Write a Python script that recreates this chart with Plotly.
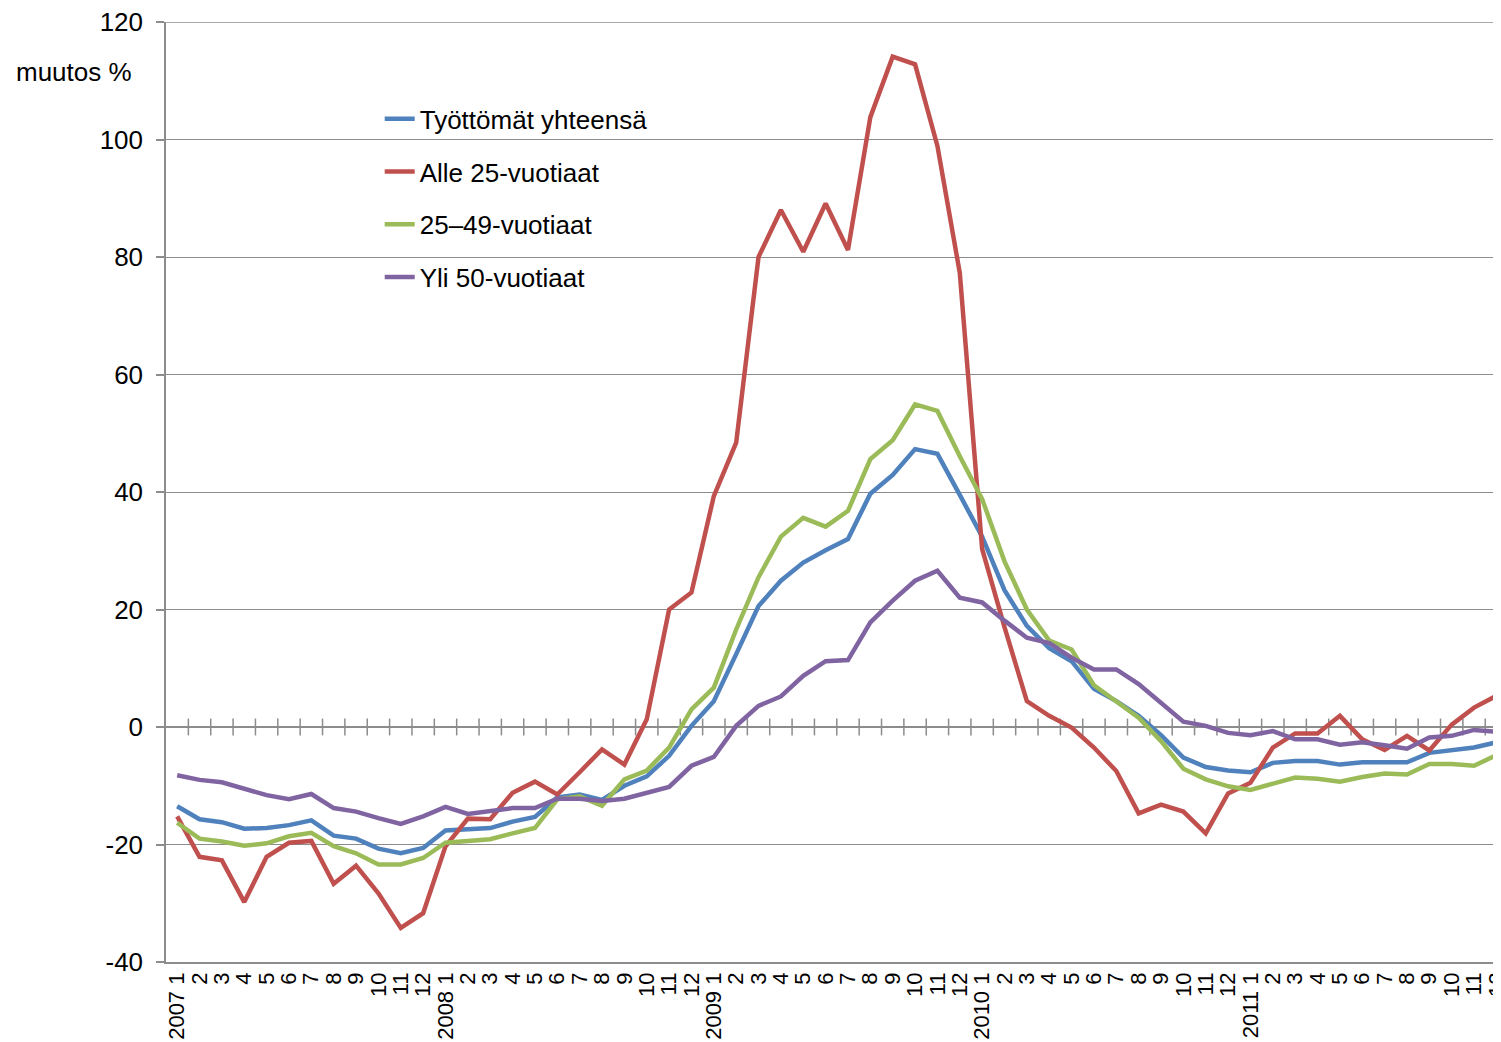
import numpy as np
import plotly.graph_objects as go

years = [2007, 2008, 2009, 2010, 2011]
months = list(range(1, 13))
tick_labels = [f"{y} {m}" if m == 1 else str(m) for y in years for m in months]

series_names = ["Työttömät yhteensä", "Alle 25-vuotiaat", "25–49-vuotiaat", "Yli 50-vuotiaat"]
series_colors = ["#4F81BD", "#C0504D", "#9BBB59", "#8064A2"]

tyottomat = [
    -13.5, -15.7, -16.2, -17.3, -17.2, -16.7, -15.9, -18.5, -19.0, -20.7, -21.5, -20.6,
    -17.6, -17.4, -17.2, -16.1, -15.3, -12.0, -11.5, -12.4, -10.0, -8.4, -4.9, 0.2,
    4.4, 12.4, 20.6, 24.9, 28.0, 30.1, 32.0, 39.7, 42.9, 47.3, 46.5, 39.5,
    32.4, 23.3, 17.2, 13.4, 11.2, 6.5, 4.4, 1.9, -1.4, -5.2, -6.8, -7.4,
    -7.7, -6.1, -5.8, -5.8, -6.4, -6.0, -6.0, -6.0, -4.4, -3.9, -3.5, -2.6,
]
alle25 = [
    -15.2, -22.1, -22.7, -29.8, -22.1, -19.7, -19.4, -26.7, -23.6, -28.3, -34.2, -31.7,
    -20.3, -15.6, -15.7, -11.2, -9.3, -11.5, -7.7, -3.8, -6.4, 1.3, 20.0, 22.9,
    39.3, 48.4, 80.0, 88.0, 80.9, 89.1, 81.2, 103.8, 114.1, 112.8, 98.9, 77.3,
    30.3, 17.0, 4.4, 1.9, -0.1, -3.5, -7.5, -14.7, -13.2, -14.4, -18.1, -11.3,
    -9.5, -3.5, -1.1, -1.1, 1.9, -2.1, -3.9, -1.5, -4.0, 0.4, 3.3, 5.3,
]
v25_49 = [
    -16.3, -19.0, -19.5, -20.2, -19.8, -18.6, -18.0, -20.3, -21.5, -23.4, -23.4, -22.3,
    -19.7, -19.4, -19.1, -18.1, -17.2, -12.3, -11.8, -13.4, -8.9, -7.4, -3.5, 3.0,
    6.7, 16.6, 25.5, 32.4, 35.6, 34.1, 36.8, 45.6, 48.8, 54.9, 53.8, 46.1,
    38.8, 28.2, 20.0, 14.7, 13.2, 7.1, 4.4, 1.6, -2.4, -7.1, -8.9, -10.1,
    -10.7, -9.6, -8.6, -8.8, -9.3, -8.5, -7.9, -8.1, -6.3, -6.3, -6.6, -4.8,
]
yli50 = [
    -8.2, -9.0, -9.4, -10.5, -11.6, -12.3, -11.4, -13.8, -14.4, -15.5, -16.5, -15.2,
    -13.6, -14.8, -14.3, -13.8, -13.8, -12.2, -12.2, -12.6, -12.2, -11.2, -10.2, -6.6,
    -5.1, 0.2, 3.6, 5.2, 8.7, 11.2, 11.4, 17.8, 21.5, 24.9, 26.6, 22.0,
    21.2, 18.1, 15.2, 14.3, 11.8, 9.8, 9.8, 7.3, 4.1, 0.9, 0.2, -1.0,
    -1.4, -0.7, -2.1, -2.1, -3.0, -2.6, -3.1, -3.7, -1.8, -1.5, -0.5, -0.8,
]
all_series = [tyottomat, alle25, v25_49, yli50]

y_ticks = [-40, -20, 0, 20, 40, 60, 80, 100, 120]
y_tick_text = [str(v) for v in y_ticks]

FONT = "Liberation Sans, Arial, sans-serif"
GRID = "#8C8C8C"

x = np.arange(len(tick_labels))

fig = go.Figure()

# tick marks crossing the zero line, at the category boundaries
fig.add_trace(go.Scatter(
    x=x[:-1] + 0.5, y=np.zeros(len(x) - 1), mode="markers",
    marker=dict(symbol="line-ns", size=12, line=dict(width=1.5, color=GRID)),
    hoverinfo="skip", showlegend=False,
))

for i, (name, vals, col) in enumerate(zip(series_names, all_series, series_colors)):
    fig.add_trace(go.Scatter(
        x=x, y=vals, mode="lines", name=name,
        line=dict(color=col, width=4.5),
        legendgroup=f"g{i}",
    ))

# page body has an 8px margin, so the figure is 8px smaller than the window
W, H = 1493, 1034
ML, MR, MT, MB = 158, 1, 14, 80
PW, PH = W - ML - MR, H - MT - MB

fig.update_layout(
    width=W, height=H,
    margin=dict(l=ML, r=MR, t=MT, b=MB, autoexpand=False),
    paper_bgcolor="white", plot_bgcolor="white",
    font=dict(family=FONT, color="black"),
    showlegend=True,
    legend=dict(
        x=0.1602, y=0.922, xanchor="left", yanchor="top",
        font=dict(size=26, family=FONT, color="black"),
        traceorder="grouped", tracegroupgap=16,
        bgcolor="rgba(0,0,0,0)",
    ),
    xaxis=dict(
        range=[-0.5, 59.16],
        tickmode="array", tickvals=x, ticktext=tick_labels,
        tickangle=-90, tickfont=dict(size=22, family=FONT, color="black"),
        showgrid=False, zeroline=False,
        showline=True, linecolor=GRID, linewidth=1.5,
        ticks="", ticklabeloverflow="allow", automargin=False,
    ),
    yaxis=dict(
        range=[-40, 120],
        tickmode="array", tickvals=y_ticks, ticktext=y_tick_text,
        tickfont=dict(size=26, family=FONT, color="black"),
        showgrid=True, gridcolor=GRID, gridwidth=1.3,
        zeroline=True, zerolinecolor=GRID, zerolinewidth=1.5,
        showline=True, linecolor=GRID, linewidth=1.5,
        ticks="outside", ticklen=8, tickcolor=GRID, tickwidth=1.5,
        ticklabelstandoff=8, ticklabeloverflow="allow", automargin=False,
    ),
    shapes=[dict(
        type="line", xref="paper", yref="y",
        x0=0, x1=1, y0=max(y_ticks), y1=max(y_ticks),
        line=dict(color=GRID, width=1.3), layer="below",
    )],
    annotations=[dict(
        text="muutos %", xref="paper", yref="paper",
        x=(6 - ML) / PW, y=(H - MB - 64) / PH,
        xanchor="left", yanchor="middle", showarrow=False,
        font=dict(size=26, family=FONT, color="black"),
    )],
)

fig.write_html("out.html")
